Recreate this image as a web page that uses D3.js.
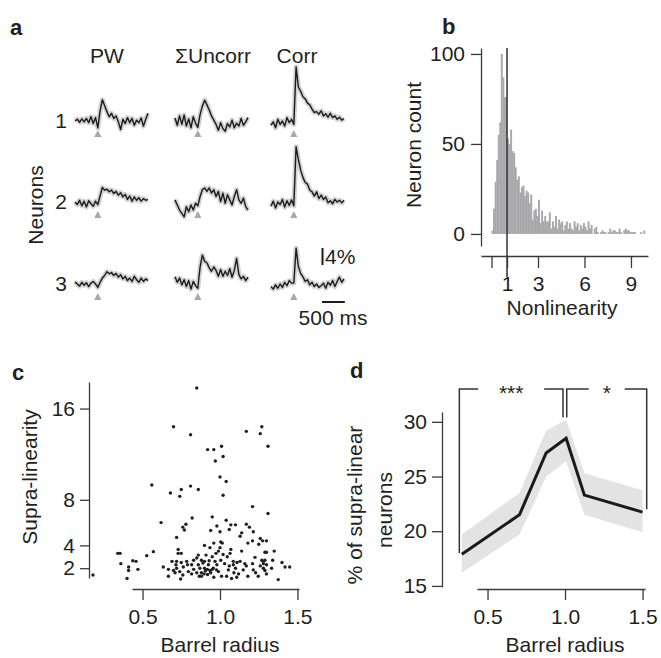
<!DOCTYPE html>
<html>
<head>
<meta charset="utf-8">
<script src="https://cdn.jsdelivr.net/npm/d3@7"></script>
<style>
  body { margin: 0; background: #fff; }
  svg text { font-family: "Liberation Sans", Arial, Helvetica, sans-serif; fill: #231f20; }
  .axis path, .axis line { stroke: #3a3a3a; stroke-width: 1.3; }
  .axis text { font-size: 21px; font-family: "Liberation Sans", Arial, sans-serif; fill: #231f20; }
  .lbl { font-size: 21px; }
  .panel { font-size: 22px; font-weight: bold; }
</style>
</head>
<body>
<svg id="fig" width="661" height="658"></svg>
<script>
//---- Data ---------------------------------------------------------------------
// panel a: example dF/F traces (%), one sample every 50 ms, stimulus at t = 0
var traceTimes = d3.range(-500, 1101, 50);
var colTitles = ["PW", "\u03A3Uncorr", "Corr"];
var rowLabels = ["1", "2", "3"];

var pw1   = [0.0, 0.4, -0.3, 0.5, -0.2, 0.6, -0.4, 1.0, -0.6, 0.8, -1.6, 2.4, 5.0, 3.6, 2.2, 1.0, 1.8, 0.6, 1.2, -0.2, -2.0, 0.4, -0.6, 0.8, -0.4, 0.6, -1.0, 0.2, -0.4, 0.7, -1.2, 0.4, 1.8];
var unc1  = [0.7, -1.0, 1.2, -0.8, 1.4, -1.2, 0.5, -1.6, 1.0, -0.5, -1.5, 1.5, 3.5, 4.9, 3.8, 2.6, 1.2, 0.2, -0.8, -2.2, -0.4, -1.8, -2.4, -0.6, -1.4, 0.2, -1.6, -0.5, -1.2, 0.6, -1.0, -0.2, 0.8];
var corr1 = [-1.0, -0.2, -1.6, 0.4, -0.8, 0.0, -1.2, 0.8, -0.4, 0.4, -0.8, 12.7, 8.0, 7.0, 5.7, 5.2, 4.2, 3.8, 2.8, 2.0, 2.2, 1.6, 2.4, 1.2, 1.7, 0.9, 1.8, 0.8, 1.2, 0.4, 0.9, 0.2, 0.6];
var pw2   = [0.0, -0.6, 0.4, -0.9, 0.2, -1.2, 0.3, -0.4, -1.0, 0.2, -0.6, 1.4, 3.4, 2.8, 3.0, 2.4, 2.8, 2.0, 2.5, 1.6, 2.2, 1.2, 1.8, 0.6, 1.4, 0.2, 1.2, 0.4, 1.0, 0.2, 0.8, 0.4, 0.6];
var unc2  = [0.5, -0.7, -1.9, -2.7, -3.5, -1.1, -2.3, -0.7, -1.9, -0.3, -0.9, 1.3, 2.9, 3.3, 2.5, 3.3, 2.1, 2.9, 1.3, 2.5, 0.1, 2.1, -0.3, 1.7, 0.5, -0.7, 1.3, 2.9, 0.5, -0.3, 0.9, -1.1, -1.9];
var corr2 = [-1.0, 0.2, -1.4, 0.0, -0.6, 0.6, -1.2, 0.3, -0.8, 0.5, -0.9, 13.0, 10.0, 7.5, 5.8, 4.6, 4.2, 2.8, 2.4, 1.4, 2.4, 0.8, 1.6, 0.6, 1.2, -0.2, 0.3, -0.4, 0.6, 0.0, 0.4, -0.2, 0.4];
var pw3   = [0.5, 0.0, -0.5, 0.4, -0.3, 0.3, -0.6, 0.2, 0.6, 0.0, -0.8, 0.4, 1.4, 2.0, 2.9, 2.4, 2.7, 2.0, 2.5, 1.6, 2.2, 1.2, 1.8, 0.8, 1.4, 0.6, 1.8, 1.0, 0.4, 1.4, 0.6, 1.2, 0.8];
var unc3  = [1.7, 0.4, 1.4, -0.2, 1.0, -0.6, 0.8, -1.2, 0.6, -0.4, -1.0, 4.0, 6.8, 5.3, 5.0, 3.8, 3.0, 4.0, 3.2, 1.8, 3.4, 1.8, 3.0, 2.0, 3.6, 1.6, 3.2, 6.0, 2.2, 1.2, 1.8, 0.8, 1.6];
var corr3 = [-0.6, -1.2, -0.2, -1.0, 0.0, -0.8, 0.4, -0.4, 0.8, 0.2, 0.2, 8.4, 4.1, 2.5, 1.7, 0.6, 1.0, -0.2, 0.4, -0.6, 0.0, -0.8, -0.4, 0.2, -1.0, 0.4, -0.3, 0.8, -0.6, 0.6, 1.6, 0.4, 1.2];
var traceRows = [[pw1, unc1, corr1], [pw2, unc2, corr2], [pw3, unc3, corr3]];

// panel b: histogram of nonlinearity, bins of 0.1 starting at 0
var histBinStart = 0;
var histBinWidth = 0.1;
var histCounts = [2, 14, 29, 41, 55, 62, 100, 87, 76, 76,
  53, 50, 58, 46, 45, 37, 30, 32, 23, 26,
  27, 21, 24, 23, 17, 22, 8, 13, 14, 10,
  19, 6, 13, 7, 10, 7, 7, 12, 3, 7,
  4, 10, 3, 8, 6, 7, 2, 5, 7, 3,
  6, 3, 2, 7, 4, 6, 2, 5, 3, 6,
  4, 2, 7, 3, 5, 0, 3, 4, 1, 0,
  1, 2, 1, 1, 0, 1, 3, 1, 2, 2,
  1, 1, 3, 1, 0, 2, 3, 2, 2, 1,
  1, 1, 1, 0, 0, 0, 1, 0, 2, 0, 0];
var histTicks = [0, 1, 3, 6, 9];

// panel c: supra-linearity vs barrel radius
var scatterRadius = [0.18, 0.85, 0.70, 0.81, 1.17, 1.27, 1.26, 1.31, 0.92, 0.96, 1.01, 0.97, 1.02, 1.00, 1.04, 0.56, 0.75, 0.81, 0.86, 0.68, 0.74, 1.02, 1.21, 1.31, 0.62, 0.82, 0.95,
  0.34, 0.355, 0.36, 0.41, 0.41, 0.40, 0.437, 0.458, 0.47, 0.527, 0.57,
  0.76, 0.78, 0.77, 1.04, 1.07, 1.10, 0.98, 0.94, 1.00, 1.06, 1.17, 1.19, 1.14, 1.215, 0.72, 1.13, 1.26, 1.275, 1.30, 1.21, 1.18, 1.25,
  1.005, 1.015, 0.96, 0.90, 0.935, 1.00, 1.07, 1.065, 0.73, 0.73, 0.75, 1.14, 1.29, 1.30, 1.35, 0.99, 0.974, 0.86, 0.91, 0.95, 1.02, 1.047, 1.226, 1.27, 1.29, 1.34,
  0.69, 0.72, 0.75, 0.785, 0.83, 0.85, 0.88, 0.90, 0.93, 0.968, 1.005, 1.03, 1.086, 1.11, 1.13, 1.16, 1.21, 1.28, 1.40, 1.42, 1.45,
  0.634, 0.667, 0.667, 0.70, 0.72, 0.74, 0.746, 0.763, 0.796, 0.817, 0.83, 0.85, 0.866, 0.88, 0.897, 0.90, 0.918, 0.935, 0.957, 0.978, 1.01, 1.043, 1.075, 1.108, 1.054, 1.10, 1.15, 1.18, 1.215, 1.247, 1.28, 1.29, 1.333, 1.376,
  0.817, 0.86, 0.925, 0.98, 1.086, 1.17, 0.716,
  0.88, 0.905, 0.92, 0.94, 0.95, 0.99, 0.87, 0.89, 1.06, 1.09, 1.26, 1.28, 1.30, 1.30, 0.79, 0.71, 0.76, 1.12, 1.23, 0.96];
var scatterSupra = [1.40, 17.8, 14.4, 13.7, 14.0, 14.4, 13.8, 12.7, 12.4, 12.4, 12.7, 11.4, 11.8, 10.0, 9.6, 9.3, 8.9, 9.2, 8.9, 8.6, 8.3, 8.4, 7.4, 6.8, 6.0, 6.4, 6.5,
  3.3, 3.3, 2.4, 2.1, 1.8, 1.1, 2.65, 2.6, 1.9, 3.1, 3.45,
  5.6, 5.85, 5.35, 6.2, 5.8, 5.8, 5.7, 5.3, 5.2, 5.4, 5.85, 5.6, 5.1, 5.2, 4.7, 4.8, 4.6, 4.4, 4.4, 4.4, 4.2, 4.1,
  4.3, 4.2, 4.2, 4.0, 3.8, 3.8, 3.65, 3.3, 3.65, 3.3, 3.3, 3.5, 3.4, 3.4, 3.5, 3.5, 3.3, 3.15, 3.15, 3.0, 3.2, 3.0, 2.95, 2.7, 2.7, 2.7,
  2.6, 2.6, 2.5, 2.6, 2.7, 2.9, 2.7, 2.6, 2.65, 2.6, 2.7, 2.4, 2.6, 2.5, 2.6, 2.4, 2.4, 2.4, 2.5, 2.1, 2.1,
  2.1, 1.9, 1.3, 1.8, 2.0, 1.7, 1.05, 2.1, 1.7, 1.5, 1.9, 1.6, 1.3, 1.3, 1.5, 2.0, 1.9, 1.8, 2.0, 1.85, 1.3, 1.3, 1.1, 1.2, 1.85, 2.0, 1.85, 1.3, 1.85, 1.3, 2.0, 1.8, 2.0, 1.0,
  2.3, 2.3, 2.3, 2.3, 2.3, 2.2, 2.3,
  1.6, 1.75, 1.45, 1.6, 1.9, 1.7, 2.0, 2.45, 2.2, 1.6, 2.2, 2.6, 2.3, 1.5, 2.3, 1.6, 1.4, 1.5, 1.6, 1.2];
var supraTicks = [2, 4, 8, 16];

// panel d: % of supra-linear neurons vs barrel radius (mean and band)
var barrelRadius = [0.334, 0.706, 0.878, 1.007, 1.125, 1.50];
var pctSupra = [17.9, 21.5, 27.15, 28.5, 23.3, 21.75];
var pctUpper = [19.7, 23.5, 29.2, 30.2, 25.3, 23.75];
var pctLower = [16.2, 19.7, 25.0, 26.4, 21.5, 19.9];
var pctTicks = [15, 20, 25, 30];
var radiusTicks = [0.5, 1, 1.5];
var sigLabels = ["***", "*"];

//---- Setup --------------------------------------------------------------------
var svg = d3.select("#fig");

function addText(x, y, s, cls, anchor, rot) {
  var t = svg.append("text")
    .attr("class", cls || "lbl")
    .attr("text-anchor", anchor || "start")
    .text(s);
  if (rot) {
    t.attr("transform", "translate(" + x + "," + y + ") rotate(-90)");
  } else {
    t.attr("x", x).attr("y", y);
  }
  return t;
}

//---- Panel a ------------------------------------------------------------------
addText(10, 35, "a", "panel");
var colX0 = [75, 175, 271];
var titleX = [107, 213, 297];
var rowBase = [121, 202, 284];
var rowLabelY = [128, 209, 291];

colTitles.forEach(function (t, c) { addText(titleX[c], 63, t, "lbl", "middle"); });
rowLabels.forEach(function (t, r) { addText(61, rowLabelY[r], t, "lbl", "middle"); });
addText(43, 205, "Neurons", "lbl", "middle", true);

traceRows.forEach(function (row, r) {
  row.forEach(function (vals, c) {
    var tx = d3.scaleLinear().domain([-500, 1100]).range([colX0[c], colX0[c] + 73]);
    var ty = d3.scaleLinear().domain([0, 4]).range([rowBase[r], rowBase[r] - 17]);
    var line = d3.line()
      .x(function (d, i) { return tx(traceTimes[i]); })
      .y(function (d) { return ty(d); });
    // grey error band approximated by a wide pale stroke
    svg.append("path").attr("d", line(vals))
      .attr("fill", "none").attr("stroke", "#d2d2d2")
      .attr("stroke-width", 5).attr("stroke-linejoin", "round");
    svg.append("path").attr("d", line(vals))
      .attr("fill", "none").attr("stroke", "#1a1a1a")
      .attr("stroke-width", 1.4).attr("stroke-linejoin", "round");
    // stimulus marker
    var sx = tx(0), sy = rowBase[r] + 9;
    svg.append("path")
      .attr("d", "M" + sx + "," + sy + "L" + (sx + 3.6) + "," + (sy + 7) + "L" + (sx - 3.6) + "," + (sy + 7) + "Z")
      .attr("fill", "#a8a8a8");
  });
});

// scale bars (4 %, 500 ms)
var sbY = d3.scaleLinear().domain([0, 4]).range([265, 248]);
var sbX = d3.scaleLinear().domain([0, 500]).range([322, 322 + 73 * 500 / 1600]);
svg.append("line").attr("x1", 322.5).attr("x2", 322.5).attr("y1", sbY(0)).attr("y2", sbY(4))
  .attr("stroke", "#1a1a1a").attr("stroke-width", 2);
svg.append("line").attr("x1", sbX(0)).attr("x2", sbX(500)).attr("y1", 302).attr("y2", 302)
  .attr("stroke", "#1a1a1a").attr("stroke-width", 2);
addText(325, 264, "4%");
addText(333, 325, "500 ms", "lbl", "middle");

//---- Panel b ------------------------------------------------------------------
addText(442, 34, "b", "panel");
var bx = d3.scaleLinear().domain([-0.68, 10.1]).range([481, 648]);
var by = d3.scaleLinear().domain([-6.7, 103.3]).range([246, 48]);

svg.append("g").selectAll("rect")
  .data(histCounts)
  .enter()
  .append("rect")
  .attr("x", function (d, i) { return bx(histBinStart + i * histBinWidth); })
  .attr("width", bx(histBinWidth) - bx(0) + 0.4)
  .attr("y", function (d) { return by(d); })
  .attr("height", function (d) { return by(0) - by(d); })
  .attr("fill", "#a9a9ab");

svg.append("g").attr("class", "axis")
  .attr("transform", "translate(481,0)")
  .call(d3.axisLeft(by).tickValues([0, 50, 100]).tickSize(10).tickPadding(6).tickSizeOuter(0));
svg.append("g").attr("class", "axis")
  .attr("transform", "translate(0,256)")
  .call(d3.axisBottom(bx).tickValues(histTicks).tickSize(12).tickPadding(8).tickSizeOuter(0)
    .tickFormat(function (d) { return d === 0 ? "" : d; }));

svg.append("line").attr("x1", bx(1)).attr("x2", bx(1)).attr("y1", 48).attr("y2", 277)
  .attr("stroke", "#333").attr("stroke-width", 1.5);

addText(421, 145, "Neuron count", "lbl", "middle", true);
addText(562, 315, "Nonlinearity", "lbl", "middle");

//---- Panel c ------------------------------------------------------------------
addText(12, 380, "c", "panel");
var cx = d3.scaleLinear().domain([0.432, 1.51]).range([132, 299]);
var cy = d3.scaleLinear().domain([1.14, 18.33]).range([578, 382]);

svg.append("g").attr("class", "axis")
  .attr("transform", "translate(89,0)")
  .call(d3.axisLeft(cy).tickValues(supraTicks).tickSize(9).tickPadding(5).tickSizeOuter(0));
svg.append("g").attr("class", "axis")
  .attr("transform", "translate(0,589)")
  .call(d3.axisBottom(cx).tickValues(radiusTicks).tickSize(11).tickPadding(9).tickSizeOuter(0));

svg.append("g").selectAll("circle")
  .data(scatterRadius)
  .enter()
  .append("circle")
  .attr("cx", function (d) { return cx(d); })
  .attr("cy", function (d, i) { return cy(scatterSupra[i]); })
  .attr("r", 1.7)
  .attr("fill", "#231f20");

addText(37, 477, "Supra-linearity", "lbl", "middle", true);
addText(220, 652, "Barrel radius", "lbl", "middle");

//---- Panel d ------------------------------------------------------------------
addText(350, 378, "d", "panel");
var dx = d3.scaleLinear().domain([0.432, 1.516]).range([477, 645]);
var dy = d3.scaleLinear().domain([14.9, 30.9]).range([587, 412]);

svg.append("path")
  .attr("d", d3.area()
    .x(function (d, i) { return dx(barrelRadius[i]); })
    .y0(function (d, i) { return dy(pctLower[i]); })
    .y1(function (d, i) { return dy(pctUpper[i]); })(barrelRadius))
  .attr("fill", "#e3e3e4");
svg.append("path")
  .attr("d", d3.line()
    .x(function (d, i) { return dx(barrelRadius[i]); })
    .y(function (d) { return dy(d); })(pctSupra))
  .attr("fill", "none").attr("stroke", "#1a1a1a").attr("stroke-width", 3);

svg.append("g").attr("class", "axis")
  .attr("transform", "translate(442,0)")
  .call(d3.axisLeft(dy).tickValues(pctTicks).tickSize(10).tickPadding(5).tickSizeOuter(0));
svg.append("g").attr("class", "axis")
  .attr("transform", "translate(0,589)")
  .call(d3.axisBottom(dx).tickValues(radiusTicks).tickSize(11).tickPadding(9).tickSizeOuter(0));

// significance brackets
var brackets = [
  { x0: 0.318, x1: 0.987, y0: 18.0, y1: 30.4, gap: 33, label: sigLabels[0] },
  { x0: 1.011, x1: 1.527, y0: 30.4, y1: 22.0, gap: 18, label: sigLabels[1] }
];
var bTop = dy(33);
brackets.forEach(function (b) {
  var xl = dx(b.x0), xr = dx(b.x1), xm = (xl + xr) / 2;
  var p = "M" + xl + "," + dy(b.y0) + "V" + bTop + "H" + (xm - b.gap) +
    "M" + (xm + b.gap) + "," + bTop + "H" + xr + "V" + dy(b.y1);
  svg.append("path").attr("d", p).attr("fill", "none")
    .attr("stroke", "#333").attr("stroke-width", 1.5);
  addText(xm, bTop + 11, b.label, "lbl", "middle");
});

addText(362, 505, "% of supra-linear", "lbl", "middle", true);
addText(392, 510, "neurons", "lbl", "middle", true);
addText(565, 652, "Barrel radius", "lbl", "middle");
</script>
</body>
</html>
